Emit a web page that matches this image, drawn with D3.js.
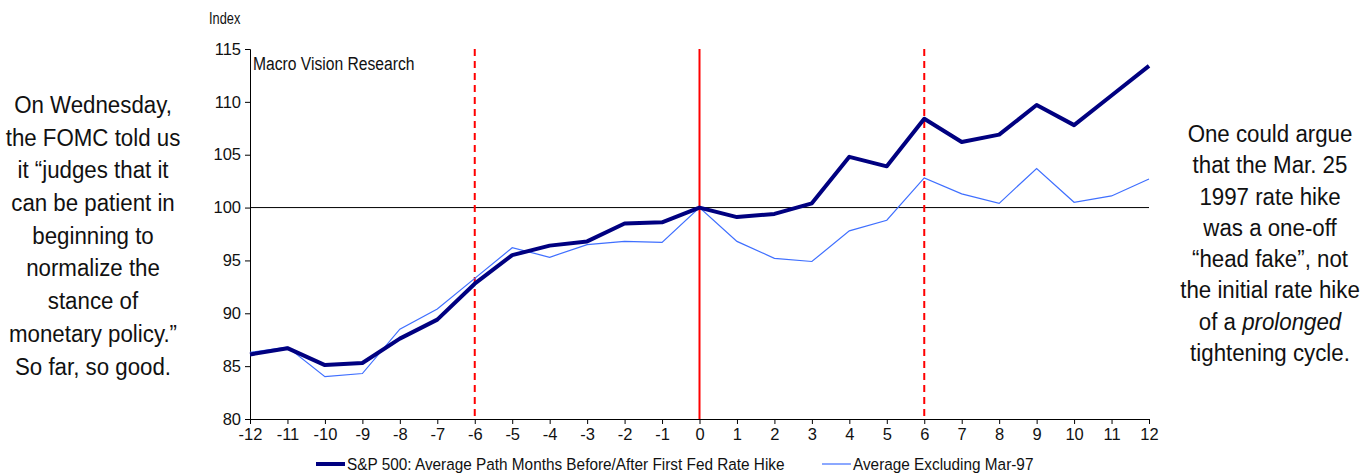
<!DOCTYPE html>
<html>
<head>
<meta charset="utf-8">
<script src="https://cdn.jsdelivr.net/npm/d3@7"></script>
<style>
  html, body { margin: 0; padding: 0; background: #fff; }
  svg { display: block; }
  text { font-family: "Liberation Sans Narrow", "Arial Narrow", "Liberation Sans", Arial, sans-serif; fill: #111; }
</style>
</head>
<body>
<svg id="chart" width="1372" height="474"></svg>
<script>
// ---- data ----
const months = [-12,-11,-10,-9,-8,-7,-6,-5,-4,-3,-2,-1,0,1,2,3,4,5,6,7,8,9,10,11,12];
const sp500Path = [86.1,86.7,85.1,85.3,87.6,89.4,92.8,95.5,96.4,96.8,98.5,98.6,100,99.1,99.4,100.4,104.8,103.9,108.4,106.2,106.9,109.7,107.8,110.6,113.4];
const exMar97   = [86.3,86.8,84.0,84.3,88.5,90.4,93.3,96.2,95.3,96.5,96.8,96.7,100,96.8,95.2,94.9,97.8,98.8,102.8,101.3,100.4,103.7,100.5,101.1,102.7];
const yTicks = [80,85,90,95,100,105,110,115];
const seriesNames = ["S&P 500: Average Path Months Before/After First Fed Rate Hike", "Average Excluding Mar-97"];
const markerMonths = [-6, 0, 6];
const leftNote = ["On Wednesday,", "the FOMC told us", "it \u201cjudges that it", "can be patient in", "beginning to", "normalize the", "stance of", "monetary policy.\u201d", "So far, so good."];
const rightNote = ["One could argue", "that the Mar. 25", "1997 rate hike", "was a one-off", "\u201chead fake\u201d, not", "the initial rate hike", "of a |prolonged|", "tightening cycle."];

// ---- layout ----
const svg = d3.select("#chart");
const x = d3.scaleLinear().domain([-12, 12]).range([250, 1149]);
const y = d3.scaleLinear().domain([80, 115]).range([419, 49]);

// axes
const yAxis = d3.axisLeft(y).tickValues(yTicks).tickSize(5).tickPadding(4);
const gy = svg.append("g").attr("transform", `translate(${x(-12)},0)`).call(yAxis);
gy.select(".domain").attr("stroke", "#000");
gy.selectAll(".tick line").attr("stroke", "#000");
gy.selectAll(".tick text").attr("font-size", 16.5).attr("fill", "#111");

const xAxis = d3.axisBottom(x).tickValues(months).tickSize(5).tickPadding(4).tickFormat(d3.format("d"));
const gx = svg.append("g").attr("transform", `translate(0,${y(80)})`).call(xAxis);
gx.select(".domain").attr("stroke", "#000");
gx.selectAll(".tick line").attr("stroke", "#000");
gx.selectAll(".tick text").attr("font-size", 16.5).attr("fill", "#111").text(d => d < 0 ? "-" + Math.abs(d) : d);

// 100 reference line
svg.append("line").attr("x1", x(-12)).attr("x2", x(12)).attr("y1", y(100)).attr("y2", y(100))
  .attr("stroke", "#000").attr("stroke-width", 1);

// vertical markers
svg.selectAll(".marker").data(markerMonths).enter().append("line")
  .attr("x1", d => x(d)).attr("x2", d => x(d)).attr("y1", y(115)).attr("y2", y(80))
  .attr("stroke", "#ff0000").attr("stroke-width", 2)
  .attr("stroke-dasharray", d => d === 0 ? null : "7,5");

// lines
const line = d3.line().x((d, i) => x(months[i])).y(d => y(d));
svg.append("path").datum(exMar97).attr("d", line).attr("fill", "none")
  .attr("stroke", "#3f6fff").attr("stroke-width", 1.2);
svg.append("path").datum(sp500Path).attr("d", line).attr("fill", "none")
  .attr("stroke", "#000080").attr("stroke-width", 4).attr("stroke-linejoin", "round");

// condensed text helper
function ctext(px, py, size, sx, str, anchor) {
  return svg.append("text")
    .attr("transform", `translate(${px},${py}) scale(${sx},1)`)
    .attr("font-size", size).attr("text-anchor", anchor || "start").text(str);
}

// labels
ctext(209, 24, 16, 0.8, "Index");
ctext(253, 70, 18, 0.87, "Macro Vision Research");

// legend
const legend = [
  {name: seriesNames[0], color: "#000080", w: 4, x0: 316},
  {name: seriesNames[1], color: "#3f6fff", w: 1.2, x0: 822}
];
legend.forEach(d => {
  svg.append("line").attr("x1", d.x0).attr("x2", d.x0 + 29).attr("y1", 464).attr("y2", 464)
    .attr("stroke", d.color).attr("stroke-width", d.w);
  ctext(d.x0 + 31, 470, 16.5, 0.93, d.name);
});

// side notes
function note(lines, cx, y0, lh) {
  const g = svg.append("g").attr("transform", `translate(${cx},0) scale(0.91,1)`);
  const t = g.append("text").attr("text-anchor", "middle").attr("font-size", 24.5);
  lines.forEach((ln, i) => {
    const ts = t.append("tspan").attr("x", 0).attr("y", y0 + i * lh);
    ln.split("|").forEach((part, j) => {
      ts.append("tspan").attr("font-style", j % 2 ? "italic" : null).text(part);
    });
  });
}
note(leftNote, 93, 113, 32.7);
note(rightNote, 1270, 142, 31.3);
</script>
</body>
</html>
